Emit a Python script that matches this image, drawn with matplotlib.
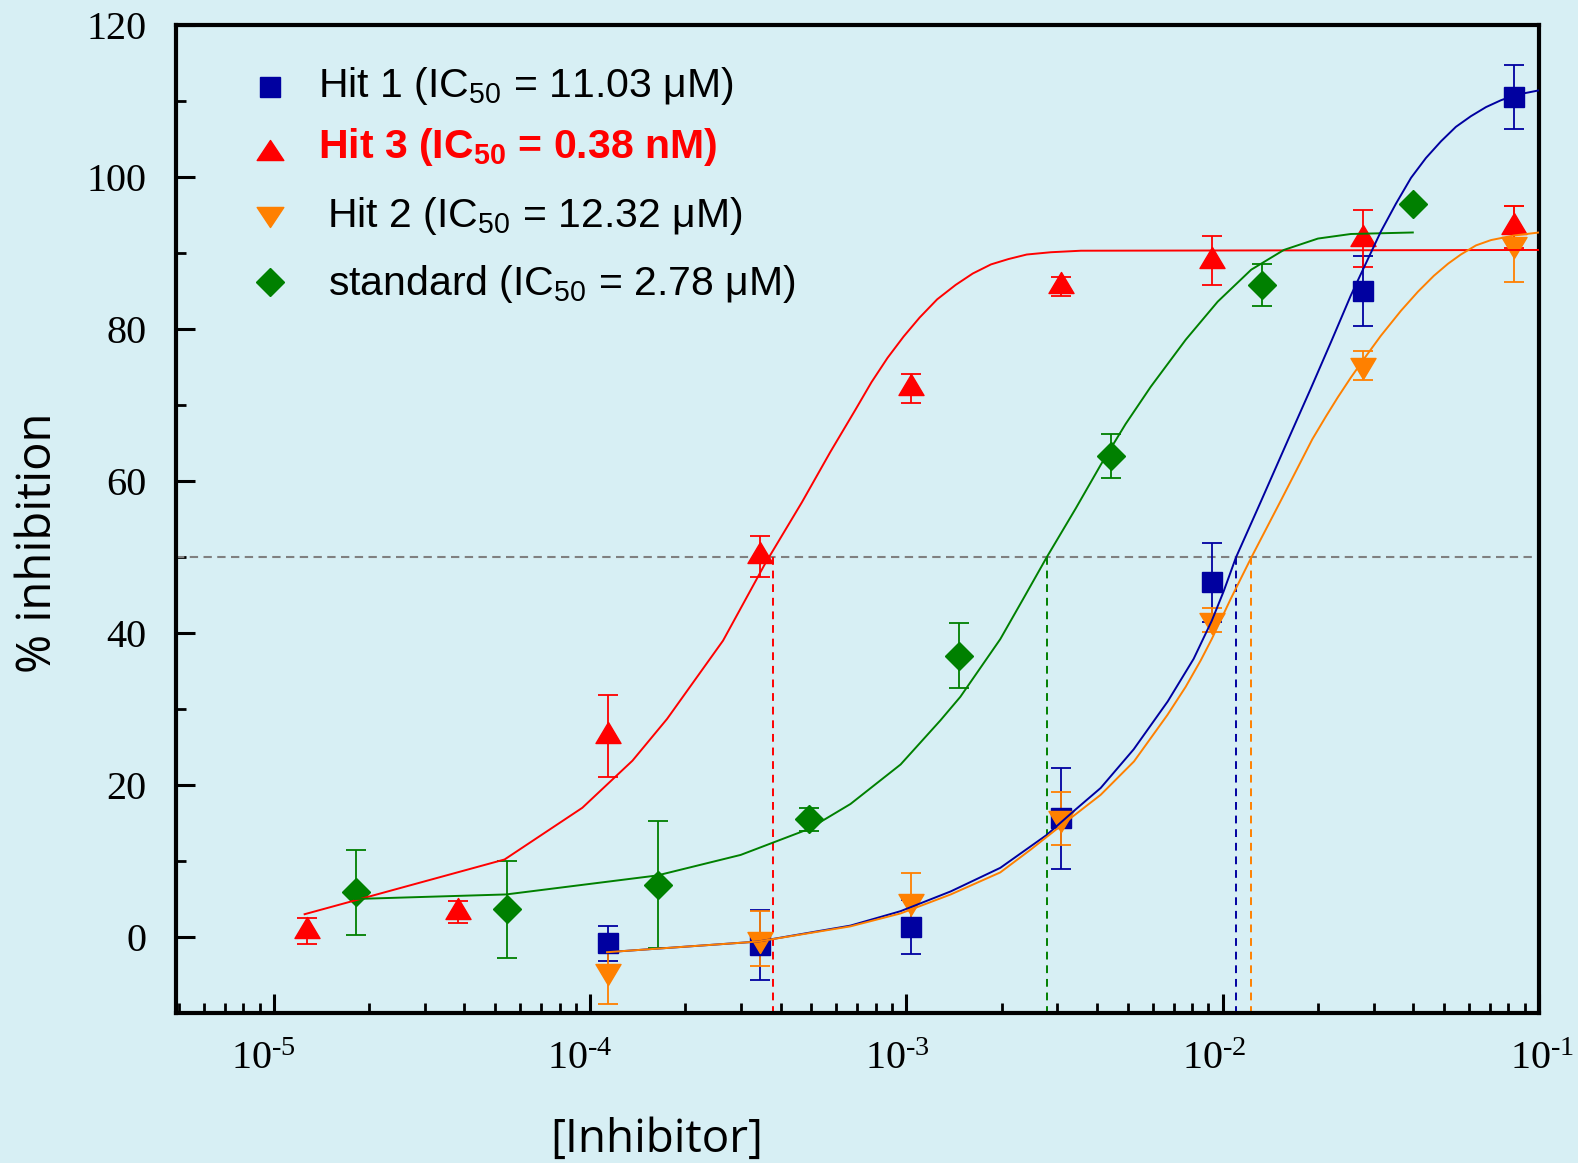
import numpy as np
import matplotlib
matplotlib.use("Agg")
import matplotlib.pyplot as plt
import matplotlib.transforms as mtransforms
from matplotlib.path import Path
from matplotlib.ticker import FixedLocator, FixedFormatter, LogLocator, NullFormatter, MultipleLocator

# ---------------- data ----------------
conc_hits = [1.14e-4, 3.43e-4, 1.03e-3, 3.09e-3, 9.26e-3, 2.78e-2, 8.33e-2]
conc_hit3 = [1.27e-5, 3.81e-5, 1.14e-4, 3.43e-4, 1.03e-3, 3.09e-3, 9.26e-3, 2.78e-2, 8.33e-2]
conc_std = [1.82e-5, 5.45e-5, 1.64e-4, 4.91e-4, 1.47e-3, 4.42e-3, 1.33e-2, 4.0e-2]

hit1_y = [-0.85, -1.0, 1.3, 15.6, 46.7, 85.0, 110.5]
hit1_err = [2.3, 4.6, 3.6, 6.6, 5.2, 4.6, 4.2]
hit2_y = [-4.5, -0.2, 4.8, 15.6, 41.7, 75.2, 91.2]
hit2_err = [4.3, 3.6, 3.6, 3.5, 1.6, 1.9, 5.0]
hit3_y = [0.8, 3.3, 26.4, 50.1, 72.2, 85.6, 89.0, 91.9, 93.4]
hit3_err = [1.7, 1.5, 5.4, 2.7, 1.9, 1.2, 3.2, 3.7, 2.8]
std_y = [5.9, 3.65, 6.9, 15.5, 37.0, 63.3, 85.8, 96.5]
std_err = [5.6, 6.4, 8.4, 1.5, 4.3, 2.9, 2.8, 0.0]

# fitted curves
fit3_x = [1.25e-5, 5.36e-5, 9.44e-5, 1.36e-4, 1.75e-4, 2.63e-4, 3.57e-4, 4.67e-4, 5.74e-4,
          6.90e-4, 7.75e-4, 8.71e-4, 9.79e-4, 1.10e-3, 1.25e-3, 1.43e-3, 1.62e-3, 1.85e-3,
          2.10e-3, 2.40e-3, 2.86e-3, 3.56e-3, 1.0e-1]
fit3_y = [3.0, 10.2, 17.0, 23.2, 28.7, 39.0, 49.1, 57.2, 63.8,
          69.4, 73.0, 76.2, 79.0, 81.5, 83.9, 85.8, 87.3, 88.5,
          89.2, 89.8, 90.1, 90.3, 90.4]

fitstd_x = [1.80e-5, 5.42e-5, 1.63e-4, 2.99e-4, 4.90e-4, 6.65e-4, 9.58e-4, 1.28e-3, 1.48e-3,
            1.98e-3, 2.34e-3, 2.77e-3, 3.43e-3, 4.11e-3, 4.93e-3, 5.92e-3, 7.64e-3, 9.64e-3,
            1.23e-2, 1.56e-2, 2.00e-2, 2.54e-2, 3.99e-2]
fitstd_y = [5.0, 5.6, 8.1, 10.8, 14.2, 17.5, 22.7, 28.5, 31.6,
            39.2, 44.5, 49.9, 56.4, 62.1, 67.5, 72.4, 78.6, 83.6,
            87.8, 90.4, 91.9, 92.5, 92.7]

fit1_x = [1.13e-4, 3.39e-4, 6.65e-4, 9.58e-4, 1.38e-3, 1.98e-3, 2.77e-3, 3.43e-3, 4.11e-3,
          5.23e-3, 6.70e-3, 8.09e-3, 9.23e-3, 1.007e-2, 1.10e-2, 1.32e-2, 1.62e-2, 1.90e-2,
          2.20e-2, 2.54e-2, 2.84e-2, 3.16e-2, 3.53e-2, 3.94e-2, 4.39e-2, 4.90e-2, 5.46e-2,
          6.09e-2, 6.80e-2, 7.58e-2, 8.45e-2, 1.0e-1]
fit1_y = [-2.0, -0.6, 1.5, 3.4, 6.0, 9.1, 13.4, 16.8, 19.6,
          24.7, 31.0, 36.6, 41.6, 45.5, 49.9, 57.3, 65.7, 72.2,
          78.3, 84.4, 88.7, 92.8, 96.5, 99.9, 102.5, 104.7, 106.6,
          108.0, 109.2, 110.1, 110.8, 111.4]

fit2_x = [1.13e-4, 3.39e-4, 6.65e-4, 9.58e-4, 1.38e-3, 1.98e-3, 2.47e-3, 3.09e-3, 4.11e-3,
          5.24e-3, 6.68e-3, 7.63e-3, 8.52e-3, 9.23e-3, 1.06e-2, 1.23e-2, 1.53e-2, 1.92e-2,
          2.12e-2, 2.31e-2, 2.54e-2, 2.80e-2, 3.16e-2, 3.66e-2, 4.14e-2, 4.65e-2, 5.16e-2,
          5.66e-2, 6.32e-2, 7.05e-2, 8.32e-2, 1.0e-1]
fit2_y = [-2.0, -0.6, 1.4, 3.1, 5.6, 8.5, 11.5, 14.7, 18.7,
          23.1, 29.2, 32.9, 36.4, 39.2, 44.5, 49.9, 57.5, 65.5,
          68.5, 71.0, 73.6, 76.1, 79.1, 82.4, 84.9, 87.0, 88.6,
          89.8, 91.0, 91.7, 92.3, 92.7]

ic50_vals = [3.77e-4, 2.78e-3, 1.103e-2, 1.232e-2]   # hit3, standard, hit1, hit2

legend_labels = [r"Hit 1 (IC$\mathregular{_{50}}$ = 11.03 μM)",
                 r"Hit 3 (IC$\mathregular{_{50}}$ = 0.38 nM)",
                 r"Hit 2 (IC$\mathregular{_{50}}$ = 12.32 μM)",
                 r"standard (IC$\mathregular{_{50}}$ = 2.78 μM)"]

xtick_vals = [1e-5, 1e-4, 1e-3, 1e-2, 1e-1]
xtick_labels = ["$\\mathregular{10^{\u2010 5}}$", "$\\mathregular{10^{\u2010 4}}$",
                "$\\mathregular{10^{\u2010 3}}$", "$\\mathregular{10^{\u2010 2}}$",
                "$\\mathregular{10^{\u2010 1}}$"]
ytick_vals = [0, 20, 40, 60, 80, 100, 120]

# ---------------- style ----------------
BG = "#d7eff4"
C_BLUE = "#0000a0"
C_RED = "#ff0000"
C_ORANGE = "#ff8000"
C_GREEN = "#008000"

# triangle markers with the centroid on the data point (as in the original)
tri_up = Path([(0, 14), (-12.5, -7), (12.5, -7), (0, 14)],
              [Path.MOVETO, Path.LINETO, Path.LINETO, Path.CLOSEPOLY])
tri_dn = Path([(0, -14), (-12.5, 7), (12.5, 7), (0, -14)],
              [Path.MOVETO, Path.LINETO, Path.LINETO, Path.CLOSEPOLY])
leg_up = Path([(0, 10), (-13.3, -10), (13.3, -10), (0, 10)],
              [Path.MOVETO, Path.LINETO, Path.LINETO, Path.CLOSEPOLY])
leg_dn = Path([(0, -10), (-13.3, 10), (13.3, 10), (0, -10)],
              [Path.MOVETO, Path.LINETO, Path.LINETO, Path.CLOSEPOLY])

fig = plt.figure(figsize=(15.78, 11.63), dpi=100, facecolor=BG)
ax = fig.add_axes([176 / 1578, 150 / 1163, 1363 / 1578, 988 / 1163])
ax.set_facecolor(BG)
ax.set_xscale("log")
ax.set_xlim(4.9e-6, 0.1)
ax.set_ylim(-10, 120)

eb_kw = dict(linestyle="none", elinewidth=1.3, capthick=1.3, capsize=7, zorder=3)
ax.errorbar(conc_hits, hit1_y, yerr=hit1_err, marker="s", ms=14.4, color=C_BLUE, **eb_kw)
ax.errorbar(conc_hits, hit2_y, yerr=hit2_err, marker=tri_dn, ms=20.2, color=C_ORANGE, **eb_kw)
ax.errorbar(conc_hit3, hit3_y, yerr=hit3_err, marker=tri_up, ms=20.2, color=C_RED, **eb_kw)
ax.errorbar(conc_std, std_y, yerr=std_err, marker="D", ms=14.2, color=C_GREEN, **eb_kw)

lw_fit = 1.4
ax.plot(fit3_x, fit3_y, color=C_RED, lw=lw_fit, zorder=4)
ax.plot(fitstd_x, fitstd_y, color=C_GREEN, lw=lw_fit, zorder=4)
ax.plot(fit1_x, fit1_y, color=C_BLUE, lw=lw_fit, zorder=4)
ax.plot(fit2_x, fit2_y, color=C_ORANGE, lw=lw_fit, zorder=4)

# 50 % guide and IC50 drop lines
ax.axhline(50, color="#808080", lw=1.5, ls=(0, (4, 2.6)), zorder=2)
for xv, c in zip(ic50_vals, [C_RED, C_GREEN, C_BLUE, C_ORANGE]):
    ax.plot([xv, xv], [50, -10], color=c, lw=1.4, ls=(0, (4, 3)), zorder=2)

# axes / ticks
for s in ax.spines.values():
    s.set_linewidth(3.0)
ax.xaxis.set_major_locator(FixedLocator(xtick_vals))
ax.xaxis.set_major_formatter(FixedFormatter(xtick_labels))
ax.xaxis.set_minor_locator(LogLocator(base=10, subs=np.arange(2, 10)))
ax.xaxis.set_minor_formatter(NullFormatter())
ax.yaxis.set_major_locator(FixedLocator(ytick_vals))
ax.yaxis.set_minor_locator(MultipleLocator(10))
ax.tick_params(axis="both", which="major", direction="in", length=13.5, width=2.2,
               top=False, right=False, labelsize=29)
ax.tick_params(axis="both", which="minor", direction="in", length=7, width=2.0,
               top=False, right=False)
ax.tick_params(axis="x", which="major", pad=20)
ax.tick_params(axis="y", which="major", pad=21)
for lab in ax.get_xticklabels() + ax.get_yticklabels():
    lab.set_fontfamily("Liberation Serif")
# the original places most decade labels slightly left of their ticks
for lab, dx in zip(ax.get_xticklabels(), [-11, -10, -9, -8, 3]):
    lab.set_transform(lab.get_transform() +
                      mtransforms.ScaledTranslation(dx / 100, 0, fig.dpi_scale_trans))

# legend (manual)
leg_mx = 0.0687
mk_y = [0.9375, 0.8735, 0.806, 0.7402]
txt_x = [0.1042, 0.1042, 0.1108, 0.1115]
txt_y = [0.9274, 0.8651, 0.7959, 0.7267]
mk_list = [("s", 14.4, C_BLUE), (leg_up, 19.2, C_RED), (leg_dn, 19.2, C_ORANGE), ("D", 14.1, C_GREEN)]
for i, (m, ms, c) in enumerate(mk_list):
    ax.plot([leg_mx], [mk_y[i]], marker=m, ms=ms, color=c, ls="none",
            transform=ax.transAxes, clip_on=False, zorder=5)
    is_bold = i == 1
    ax.text(txt_x[i], txt_y[i], legend_labels[i], transform=ax.transAxes,
            fontsize=29.5, fontfamily="Liberation Sans",
            fontweight="bold" if is_bold else "normal",
            color=C_RED if is_bold else "black", va="baseline", ha="left", zorder=5)

fig.text(38 / 1578, 1 - 543 / 1163, "% inhibition", rotation=90, ha="center", va="center",
         fontsize=34, fontfamily="Open Sans")
fig.text(656.5 / 1578, 1 - 1152 / 1163, "[Inhibitor]", ha="center", va="baseline",
         fontsize=33, fontfamily="Open Sans")

fig.savefig("out.png", dpi=100, facecolor=BG)
